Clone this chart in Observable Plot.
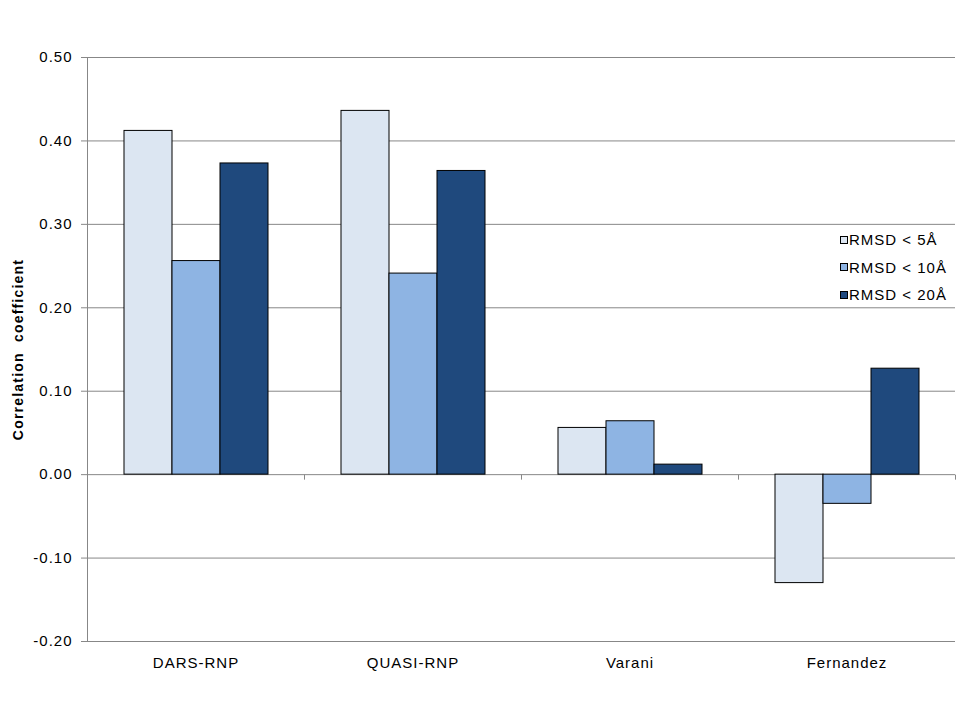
<!DOCTYPE html>
<html>
<head>
<meta charset="utf-8">
<script src="https://cdn.jsdelivr.net/npm/d3@7"></script>
<script src="https://cdn.jsdelivr.net/npm/@observablehq/plot@0.6"></script>
<style>
  html, body { margin: 0; padding: 0; background: white; }
  #wrap { position: relative; width: 960px; height: 720px; font-family: "Liberation Sans", Arial, sans-serif; }
  g[aria-label="y-axis label"] text { font-weight: bold; font-size: 14px; letter-spacing: 1.2px; }
  #legend { position: absolute; left: 840px; top: 226px; font-size: 15px; letter-spacing: 1px; color: black; }
  #legend .row { height: 27.5px; line-height: 27.5px; display: flex; align-items: center; }
  #legend .sw { width: 6px; height: 6px; border: 1px solid black; margin-right: 1px; }
</style>
</head>
<body>
<div id="wrap"></div>
<script>
const categories = ["DARS-RNP", "QUASI-RNP", "Varani", "Fernandez"];
const series = ["RMSD < 5Å", "RMSD < 10Å", "RMSD < 20Å"];
const rmsd5 = [0.412, 0.436, 0.056, -0.130];
const rmsd10 = [0.256, 0.241, 0.064, -0.035];
const rmsd20 = [0.373, 0.364, 0.012, 0.127];
const yTicks = [-0.2, -0.1, 0, 0.1, 0.2, 0.3, 0.4, 0.5];
const yTickLabels = ["-0.20", "-0.10", "0.00", "0.10", "0.20", "0.30", "0.40", "0.50"];
const seriesColors = ["#DCE6F2", "#8EB4E3", "#1F497D"];
const yTitle = "Correlation  coefficient";

const seriesValues = [rmsd5, rmsd10, rmsd20];
const data = categories.flatMap((c, i) =>
  seriesValues.map((vals, j) => ({category: c, series: series[j], value: vals[i]}))
);

const grid = "#878787";
const tickDown = {draw(ctx) { ctx.moveTo(0, 0); ctx.lineTo(0, 5); }};

const chart = Plot.plot({
  width: 960,
  height: 720,
  marginLeft: 87,
  marginRight: 5,
  marginTop: 57,
  marginBottom: 79,
  style: {fontFamily: "Liberation Sans, Arial, sans-serif", fontSize: "15px", letterSpacing: "1px", color: "black", background: "white"},
  fx: {domain: categories, padding: 0},
  x: {domain: series, paddingInner: 0, paddingOuter: 0.76, axis: null},
  y: {domain: [-0.2, 0.5]},
  color: {domain: series, range: seriesColors},
  marks: [
    Plot.ruleY(yTicks, {stroke: grid, strokeWidth: 1}),
    Plot.barY(data, {fx: "category", x: "series", y: "value", fill: "series", stroke: "black", strokeWidth: 1}),
    Plot.frame({anchor: "left", facetAnchor: "left", stroke: grid}),
    Plot.dot([0], {y: d => d, frameAnchor: "right", symbol: tickDown, r: 3, stroke: grid, fill: "none", strokeWidth: 1}),
    Plot.axisY({
      ticks: yTicks,
      tickFormat: d => yTickLabels[yTicks.indexOf(d)],
      tickSize: 6,
      tickPadding: 9,
      stroke: grid,
      fontSize: 15,
      label: yTitle,
      labelAnchor: "center",
      labelArrow: "none",
      labelOffset: 74
    }),
    Plot.axisFx({anchor: "bottom", tickSize: 0, tickPadding: 16, label: null, fontSize: 15})
  ]
});

const wrap = document.getElementById("wrap");
wrap.appendChild(chart);

const legend = document.createElement("div");
legend.id = "legend";
series.forEach((s, i) => {
  const row = document.createElement("div");
  row.className = "row";
  const sw = document.createElement("span");
  sw.className = "sw";
  sw.style.background = seriesColors[i];
  const t = document.createElement("span");
  t.textContent = s;
  row.appendChild(sw);
  row.appendChild(t);
  legend.appendChild(row);
});
wrap.appendChild(legend);
</script>
</body>
</html>
